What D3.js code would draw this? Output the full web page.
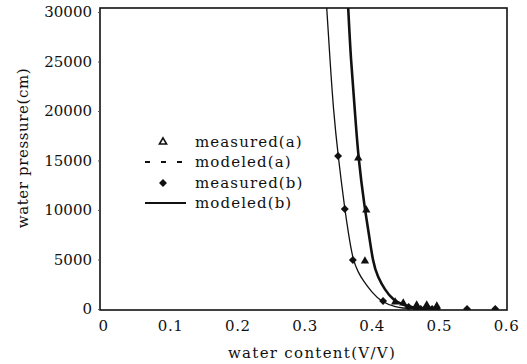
<!DOCTYPE html>
<html>
<head>
<meta charset="utf-8">
<script src="https://cdn.jsdelivr.net/npm/d3@7"></script>
<style>
  body { margin: 0; background: #fff; }
  text { font-family: "DejaVu Serif", "Liberation Serif", serif; fill: #111; }
</style>
</head>
<body>
<div id="chart"></div>
<script>
// values
var xTicks = [0, 0.1, 0.2, 0.3, 0.4, 0.5, 0.6];
var yTicks = [0, 5000, 10000, 15000, 20000, 25000, 30000];

var modeledA = [
  [0.365, 30500], [0.369, 25150], [0.375, 20100], [0.380, 15250], [0.390, 10000],
  [0.395, 8000], [0.402, 4650], [0.409, 3250], [0.420, 1900], [0.432, 900],
  [0.447, 400], [0.464, 100], [0.487, 0], [0.500, 0]
];
var modeledB = [
  [0.333, 30500], [0.338, 25150], [0.343, 20100], [0.350, 15450], [0.360, 10100],
  [0.365, 7800], [0.372, 4950], [0.380, 3700], [0.387, 2900], [0.400, 1700],
  [0.415, 700], [0.435, 200], [0.457, 0], [0.500, 0]
];
var measuredA = [
  [0.380, 15250], [0.392, 10000], [0.390, 4850], [0.435, 700], [0.447, 600],
  [0.467, 400], [0.482, 400], [0.497, 300]
];
var measuredB = [
  [0.350, 15450], [0.360, 10100], [0.372, 4950], [0.417, 800], [0.455, 200],
  [0.467, 0], [0.473, 0], [0.479, 0], [0.485, 0], [0.490, 0], [0.497, 0],
  [0.542, 0], [0.584, 0]
];
var legendItems = ["measured(a)", "modeled(a)", "measured(b)", "modeled(b)"];

var width = 527, height = 364;
var frame = { left: 100, right: 507, top: 8, bottom: 310 };

var svg = d3.select("#chart").append("svg")
  .attr("width", width)
  .attr("height", height);

var x = d3.scaleLinear().domain([0, 0.6]).range([103, 506]);
var y = d3.scaleLinear().domain([0, 30000]).range([309, 12]);

svg.append("clipPath").attr("id", "plotclip")
  .append("rect")
  .attr("x", frame.left).attr("y", frame.top)
  .attr("width", frame.right - frame.left)
  .attr("height", frame.bottom - frame.top);

// frame
svg.append("rect")
  .attr("x", frame.left).attr("y", frame.top)
  .attr("width", frame.right - frame.left)
  .attr("height", frame.bottom - frame.top)
  .attr("fill", "none")
  .attr("stroke", "#111")
  .attr("stroke-width", 1.6);

// axes
var xAxis = svg.append("g")
  .attr("transform", "translate(0," + frame.bottom + ")")
  .call(d3.axisBottom(x).tickValues(xTicks).tickSize(0).tickPadding(10)
    .tickFormat(function(d) { return d === 0 ? "0" : d3.format(".1f")(d); }));
xAxis.select(".domain").remove();
xAxis.selectAll("text").style("font-size", "15px").style("letter-spacing", "0.6px").attr("fill", "#111");

var yAxis = svg.append("g")
  .attr("transform", "translate(" + frame.left + ",0)")
  .call(d3.axisLeft(y).tickValues(yTicks).tickSize(2).tickPadding(6).tickFormat(d3.format("d")));
yAxis.select(".domain").remove();
yAxis.selectAll("line").attr("stroke", "#555");
yAxis.selectAll("text").style("font-size", "15px").attr("fill", "#111");

// axis titles
svg.append("text")
  .attr("text-anchor", "middle")
  .attr("x", 312).attr("y", 358)
  .style("font-size", "15px")
  .style("letter-spacing", "1.3px")
  .text("water content(V/V)");

svg.append("text")
  .attr("text-anchor", "middle")
  .attr("transform", "translate(28,148) rotate(-90)")
  .style("font-size", "15px")
  .style("letter-spacing", "0.6px")
  .text("water pressure(cm)");

// curves
var line = d3.line()
  .x(function(d) { return x(d[0]); })
  .y(function(d) { return y(d[1]); })
  .curve(d3.curveBasis);

var plot = svg.append("g").attr("clip-path", "url(#plotclip)");

plot.append("path").datum(modeledB)
  .attr("d", line).attr("fill", "none")
  .attr("stroke", "#111").attr("stroke-width", 1.3);

plot.append("path").datum(modeledA)
  .attr("d", line).attr("fill", "none")
  .attr("stroke", "#111").attr("stroke-width", 2.6);

var tri = d3.symbol().type(d3.symbolTriangle).size(30);
var dia = d3.symbol().type(d3.symbolDiamond2).size(40);

plot.selectAll(".ma").data(measuredA).enter().append("path")
  .attr("class", "ma")
  .attr("d", tri)
  .attr("transform", function(d) { return "translate(" + x(d[0]) + "," + y(d[1]) + ")"; })
  .attr("fill", "#111");

plot.selectAll(".mb").data(measuredB).enter().append("path")
  .attr("class", "mb")
  .attr("d", dia)
  .attr("transform", function(d) { return "translate(" + x(d[0]) + "," + y(d[1]) + ")"; })
  .attr("fill", "#111");

// legend
var legend = svg.append("g");
var rowY = [142, 162, 183, 203];

legend.append("path").attr("d", d3.symbol().type(d3.symbolTriangle).size(22))
  .attr("transform", "translate(163," + rowY[0] + ")")
  .attr("fill", "none").attr("stroke", "#111").attr("stroke-width", 1.6);
legend.append("line")
  .attr("x1", 145).attr("x2", 186).attr("y1", rowY[1]).attr("y2", rowY[1])
  .attr("stroke", "#111").attr("stroke-width", 2.2)
  .attr("stroke-dasharray", "5,11");
legend.append("path").attr("d", d3.symbol().type(d3.symbolDiamond2).size(40))
  .attr("transform", "translate(163," + rowY[2] + ")")
  .attr("fill", "#111");
legend.append("line")
  .attr("x1", 145).attr("x2", 186).attr("y1", rowY[3]).attr("y2", rowY[3])
  .attr("stroke", "#111").attr("stroke-width", 2);

legend.selectAll(".lt").data(legendItems).enter().append("text")
  .attr("class", "lt")
  .attr("x", 195)
  .attr("y", function(d, i) { return rowY[i]; })
  .attr("dy", "0.35em")
  .style("font-size", "15px")
  .style("letter-spacing", "1.1px")
  .text(function(d) { return d; });
</script>
</body>
</html>
